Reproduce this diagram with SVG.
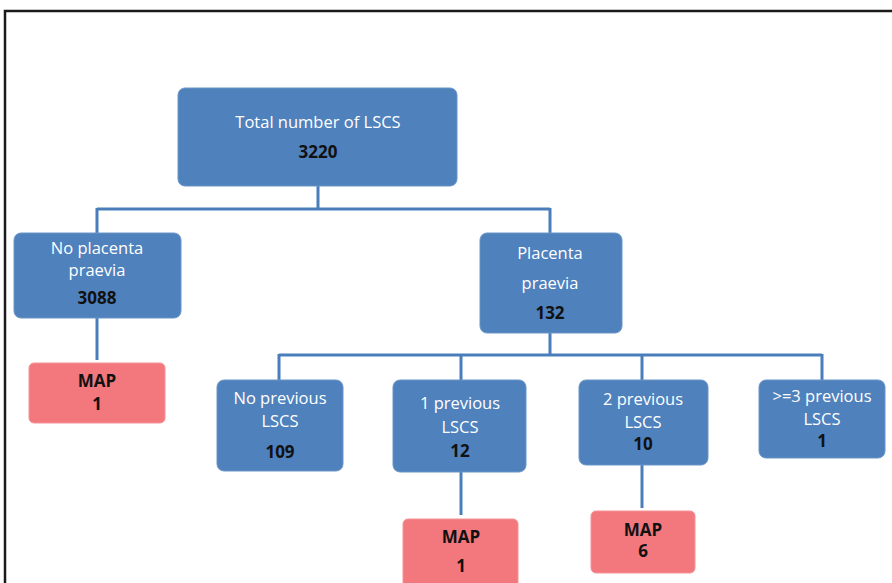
<svg xmlns="http://www.w3.org/2000/svg" width="892" height="583" viewBox="0 0 892 583">
<style>
.b{fill:#4f81bd;stroke:#6b95c8;stroke-width:1}
.p{fill:#f2787e;stroke:#f49398;stroke-width:1}
.w{fill:#ffffff;font-family:"Open Sans","Liberation Sans",sans-serif;font-size:16.5px;text-anchor:middle}
.k{fill:#111111;font-family:"Open Sans","Liberation Sans",sans-serif;font-size:17px;font-weight:bold;text-anchor:middle}
.c{fill:none;stroke:#4a7ebb;stroke-width:3}
</style>
<rect x="0" y="0" width="892" height="583" fill="#ffffff"/>
<rect x="5" y="11" width="900" height="600" fill="none" stroke="#1a1a1a" stroke-width="2.5"/>
<g id="connectors">
<path class="c" d="M318 186V209M97 209H550M97 208V233M550 208V233"/>
<path class="c" d="M97 318V360"/>
<path class="c" d="M550 333V355M279 355H822M279 354V380M461 354V380M642 354V380M822 354V380"/>
<path class="c" d="M461 472V515"/>
<path class="c" d="M642 465V508"/>
</g>
<g id="total">
<rect class="b" x="178" y="88" width="279" height="98" rx="7"/>
<text class="w" x="318" y="128">Total number of LSCS</text>
<text class="k" x="318" y="158">3220</text>
</g>
<g id="noPlacenta">
<rect class="b" x="14" y="233" width="167" height="85" rx="7"/>
<text class="w" x="97" y="254">No placenta</text>
<text class="w" x="97" y="276">praevia</text>
<text class="k" x="97" y="304">3088</text>
</g>
<g id="mapLeft">
<rect class="p" x="29" y="363" width="136" height="60" rx="5"/>
<text class="k" x="97" y="387">MAP</text>
<text class="k" x="97" y="410">1</text>
</g>
<g id="placenta">
<rect class="b" x="480" y="233" width="142" height="100" rx="7"/>
<text class="w" x="550" y="259">Placenta</text>
<text class="w" x="550" y="289">praevia</text>
<text class="k" x="550" y="319">132</text>
</g>
<g id="noPrev">
<rect class="b" x="217" y="380" width="126" height="91" rx="7"/>
<text class="w" x="280" y="404">No previous</text>
<text class="w" x="280" y="427">LSCS</text>
<text class="k" x="280" y="458">109</text>
</g>
<g id="onePrev">
<rect class="b" x="393" y="380" width="133" height="92" rx="7"/>
<text class="w" x="460" y="409">1 previous</text>
<text class="w" x="460" y="433">LSCS</text>
<text class="k" x="460" y="457">12</text>
</g>
<g id="twoPrev">
<rect class="b" x="579" y="380" width="129" height="85" rx="7"/>
<text class="w" x="643" y="405">2 previous</text>
<text class="w" x="643" y="428">LSCS</text>
<text class="k" x="643" y="450">10</text>
</g>
<g id="threePrev">
<rect class="b" x="759" y="380" width="126" height="78" rx="7"/>
<text class="w" x="822" y="402">&gt;=3 previous</text>
<text class="w" x="822" y="425">LSCS</text>
<text class="k" x="822" y="447">1</text>
</g>
<g id="mapOne">
<rect class="p" x="403" y="519" width="115" height="70" rx="5"/>
<text class="k" x="461" y="543">MAP</text>
<text class="k" x="461" y="572">1</text>
</g>
<g id="mapTwo">
<rect class="p" x="591" y="511" width="104" height="62" rx="5"/>
<text class="k" x="643" y="536">MAP</text>
<text class="k" x="643" y="557">6</text>
</g>
</svg>
